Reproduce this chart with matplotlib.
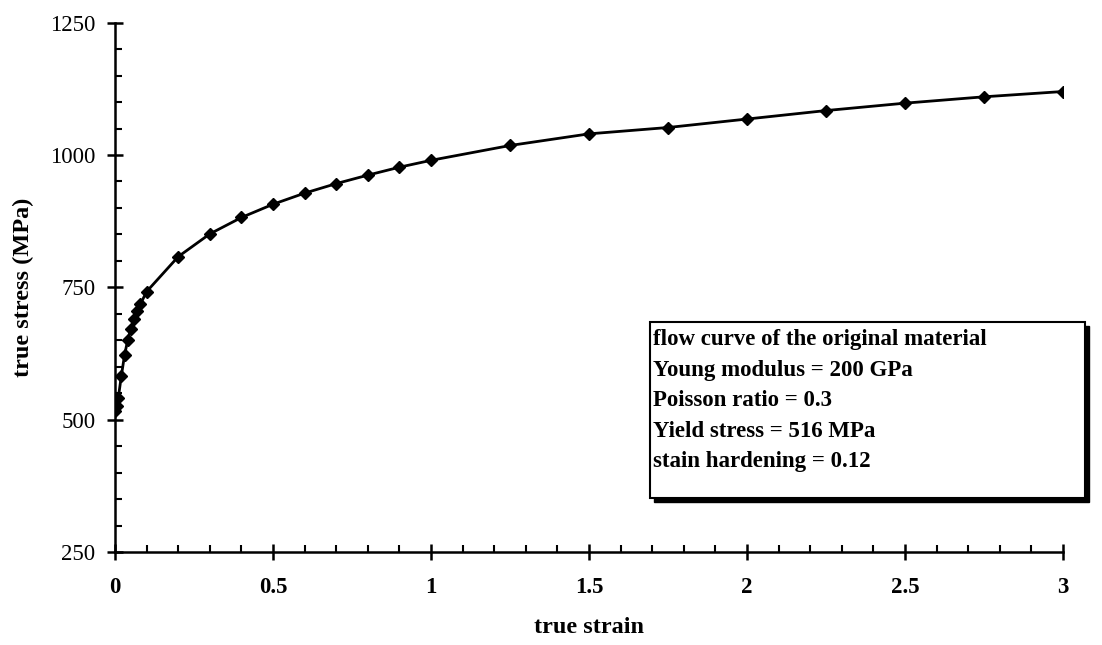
import matplotlib.pyplot as plt
from matplotlib.ticker import MultipleLocator, FuncFormatter

# flow curve
strain = [0, 0.005, 0.01, 0.02, 0.03, 0.04, 0.05, 0.06, 0.07, 0.08, 0.1,
          0.2, 0.3, 0.4, 0.5, 0.6, 0.7, 0.8, 0.9, 1.0,
          1.25, 1.5, 1.75, 2.0, 2.25, 2.5, 2.75, 3.0]
stress = [516, 525, 540, 583, 622, 650, 672, 690, 705, 718, 742,
          808, 851, 882, 907, 928, 946, 962, 977, 990,
          1018, 1040, 1052, 1068, 1084, 1098, 1110, 1120]

box_lines = ["flow curve of the original material",
             "Young modulus = 200 GPa",
             "Poisson ratio = 0.3",
             "Yield stress = 516 MPa",
             "stain hardening = 0.12"]

plt.rcParams['font.family'] = ['Liberation Serif', 'DejaVu Serif']

W, H = 1102, 645
fig = plt.figure(figsize=(W / 100, H / 100), dpi=100)
ax = fig.add_axes([0.1044, 0.1442, 0.8602, 0.8206])

ax.plot(strain, stress, color='black', lw=2, marker='D', ms=6.5, mfc='black', mec='black')

ax.set_xlim(0, 3)
ax.set_ylim(250, 1250)
ax.xaxis.set_major_locator(MultipleLocator(0.5))
ax.xaxis.set_minor_locator(MultipleLocator(0.1))
ax.yaxis.set_major_locator(MultipleLocator(250))
ax.yaxis.set_minor_locator(MultipleLocator(50))
ax.xaxis.set_major_formatter(FuncFormatter(lambda v, p: f"{v:g}"))

for s in ['top', 'right']:
    ax.spines[s].set_visible(False)
for s in ['left', 'bottom']:
    ax.spines[s].set_linewidth(1.8)

ax.tick_params(which='major', direction='inout', length=12, width=1.8)
ax.tick_params(which='minor', direction='in', length=5, width=1.5)
ax.tick_params(axis='x', labelsize=16.5, pad=12)
ax.tick_params(axis='y', labelsize=16.5, pad=8)
for t in ax.get_xticklabels():
    t.set_fontweight('bold')

ax.set_xlabel("true strain", fontsize=17.5, fontweight='bold', labelpad=14)
ax.set_ylabel("true stress (MPa)", fontsize=17.5, fontweight='bold', labelpad=12)

# text box with shadow (pixel coords from top-left)
bx0, by_top, by_bot, bx1 = 650, 322, 498, 1085
shadow = plt.Rectangle(((bx0 + 4) / W, (H - by_bot - 4) / H), (bx1 - bx0) / W, (by_bot - by_top) / H,
                       transform=fig.transFigure, facecolor='black', edgecolor='black', zorder=4)
box = plt.Rectangle((bx0 / W, (H - by_bot) / H), (bx1 - bx0) / W, (by_bot - by_top) / H,
                    transform=fig.transFigure, facecolor='white', edgecolor='black', lw=1.5, zorder=5)
fig.patches.extend([shadow, box])
for i, line in enumerate(box_lines):
    fig.text((bx0 + 3) / W, (H - 340 - i * 30.5) / H, line, fontsize=16.5,
             fontweight='bold', va='center', ha='left', zorder=6)

fig.savefig("out.png", dpi=100)
